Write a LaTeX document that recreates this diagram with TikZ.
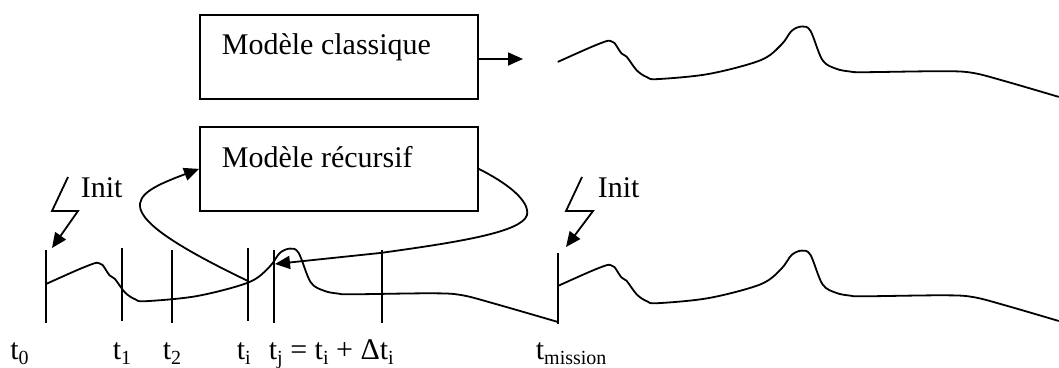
\documentclass[tikz,border=0pt]{standalone}
\usepackage{fontspec}
\setmainfont{Liberation Serif}
\usetikzlibrary{arrows.meta}
\newcommand\wavecurve[2]{\draw[curve,shift={#1}] plot[smooth,tension=0.55] coordinates {(0,0) (30.9,-13.8) (48.1,-20.6) (53,-20.8) (56.7,-18.9) (63.6,-8.6) (68.8,-5.2) (79.1,8.6) (89.4,15.4) (99.7,17.2) (151.2,12) (202.8,-1.7) (223.5,-17.2) (233.8,-31) (244.1,-35.4) (252.7,-31) (264.7,-1.7) (278.5,6.9) (292.2,9.6) (306,10.3) (385,9.3) (415,11) (448,19.5) #2};}
\newcommand\lowsub[1]{\raisebox{-5pt}{\fontsize{20}{20}\selectfont #1}}
\begin{document}
\begin{tikzpicture}[x=1pt,y=-1pt,line width=1.8pt,
  every node/.style={font=\fontsize{30}{36}\selectfont, inner sep=0pt},
  box/.style={draw, minimum width=278pt, minimum height=84pt, anchor=north west},
  arr/.style={-{Triangle[length=15pt,width=13pt]}},
  curve/.style={line join=round},
  lbl/.style={anchor=base west}]
\useasboundingbox (0,0) rectangle (1059,367);
% boxes
\node[box] (classique) at (199,14) {};
\node[lbl] (tclassique) at (221,54) {Modèle classique};
\node[box] (recursif) at (199,126) {};
\node[lbl] (trecursif) at (221,167) {Modèle récursif};
\coordinate (ctip) at (523,59);
\draw[arr] (classique.east |- ctip) -- (ctip);
% waves
\wavecurve{(557.8,61.9)}{(501,35)}
\wavecurve{(46,284)}{(512,38)}
\wavecurve{(557.8,286)}{(501,35)}
% ticks
\foreach \n/\x/\a/\b in {t0/46/250/323, t1/122/248/321, t2/172/250/323, ti/248/248/321, tj/274/250/323, td/382/250/323, tm/558/253/324}{
  \coordinate (\n top) at (\x,\a);
  \coordinate (\n bot) at (\x,\b);
  \draw (\n top) -- (\n bot);
}
% labels
\node[lbl] (l0) at (9.5,359) {t\lowsub{0}};
\node[lbl] (l1) at (112,359) {t\lowsub{1}};
\node[lbl] (l2) at (162,359) {t\lowsub{2}};
\node[lbl] (li) at (236,359) {t\lowsub{i}};
\node[lbl] (lj) at (268,359) {t\lowsub{j} = t\lowsub{i} + Δt\lowsub{i}};
\node[lbl] (lm) at (535,359) {t\lowsub{mission}};
% loops
\coordinate (tiP) at (248,281);
\coordinate (tjP) at (275,264);
\draw[arr] (tiP) .. controls (100,210) and (130,195) .. (recursif.west);
\draw[arr] (recursif.east) .. controls (505,182) and (530,200) .. (527,215) .. controls (522,232) and (460,242) .. (380,253) -- (tjP);
% init bolts
\coordinate (b1) at (68,177);
\coordinate (init1) at (52,248);
\draw[arr] (b1) -- (52,211) -- (78,211) -- (init1);
\node[lbl] (i1) at (80,197) {Init};
\coordinate (b2) at (582,177);
\coordinate (init2) at (566,247);
\draw[arr] (b2) -- (566,211) -- (593,211) -- (init2);
\node[lbl] (i2) at (597,197) {Init};
\end{tikzpicture}
\end{document}
